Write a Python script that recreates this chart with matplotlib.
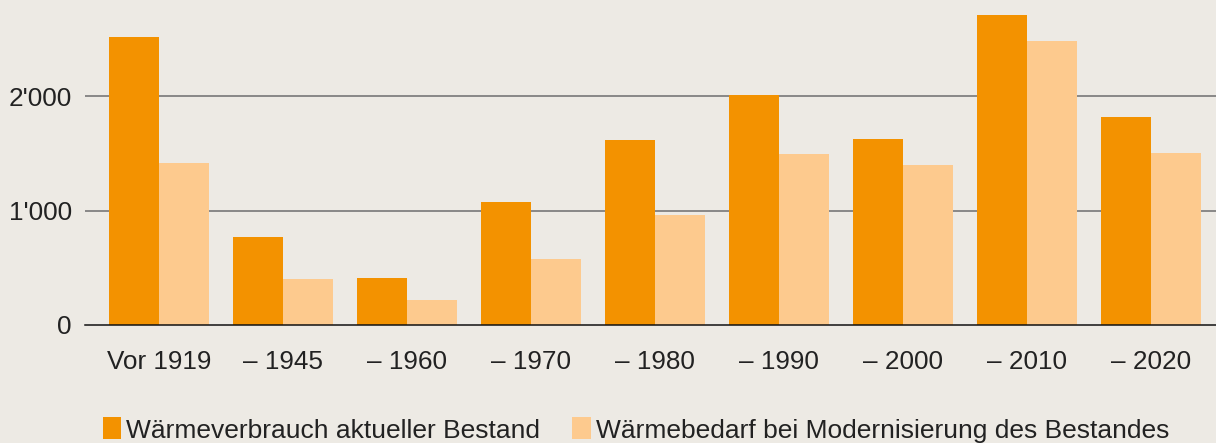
import matplotlib
matplotlib.use("Agg")
import matplotlib.pyplot as plt
import numpy as np
from matplotlib.ticker import FuncFormatter

categories = ["Vor 1919", "– 1945", "– 1960", "– 1970", "– 1980", "– 1990", "– 2000", "– 2010", "– 2020"]
verbrauch = [2515, 769, 410, 1070, 1617, 2012, 1626, 2707, 1817]
bedarf = [1415, 405, 217, 574, 957, 1490, 1395, 2480, 1502]
series_labels = ["Wärmeverbrauch aktueller Bestand", "Wärmebedarf bei Modernisierung des Bestandes"]
yticks = [0, 1000, 2000]

bg = "#EDEAE4"
c1 = "#F39200"
c2 = "#FDCA8E"

plt.rcParams['font.family'] = ['Liberation Sans', 'DejaVu Sans']

fig = plt.figure(figsize=(12.16, 4.43), dpi=100, facecolor=bg)
ax = fig.add_axes([85/1216, 1-325/443, 1-85/1216, 325/443])
ax.set_facecolor(bg)

x = np.arange(len(categories))
w = 0.403
b1 = ax.bar(x - w/2, verbrauch, width=w, color=c1, zorder=3, label=series_labels[0])
b2 = ax.bar(x + w/2, bedarf, width=w, color=c2, zorder=3, label=series_labels[1])

ax.set_xlim(-0.597, 8.524)
ax.set_ylim(0, 325/114.5*1000)
ax.set_yticks(yticks)
ax.yaxis.set_major_formatter(FuncFormatter(lambda v, p: f"{int(v):,}".replace(",", "'")))
ax.set_xticks(x)
ax.set_xticklabels(categories)
ax.tick_params(axis='both', length=0, labelsize=18.8, colors="#222222")
ax.tick_params(axis='x', pad=18)
ax.tick_params(axis='y', pad=9.5)
for gy in yticks[1:]:
    ax.axhline(gy, color="#6e6e6e", lw=1.1, zorder=1)
for s in ["top", "right", "left"]:
    ax.spines[s].set_visible(False)
ax.spines["bottom"].set_color("#111111")
ax.spines["bottom"].set_linewidth(1.1)
ax.spines["bottom"].set_zorder(4)

fig.legend(handles=[b1, b2], labels=series_labels, loc='center',
           bbox_to_anchor=(636/1216, 1-430/443), ncol=2, frameon=False,
           fontsize=19, handlelength=0.7, handleheight=0.9, handletextpad=0.2,
           columnspacing=1.2, labelcolor="#222222", borderaxespad=0, borderpad=0)

fig.savefig("out.png", dpi=100, facecolor=bg)
